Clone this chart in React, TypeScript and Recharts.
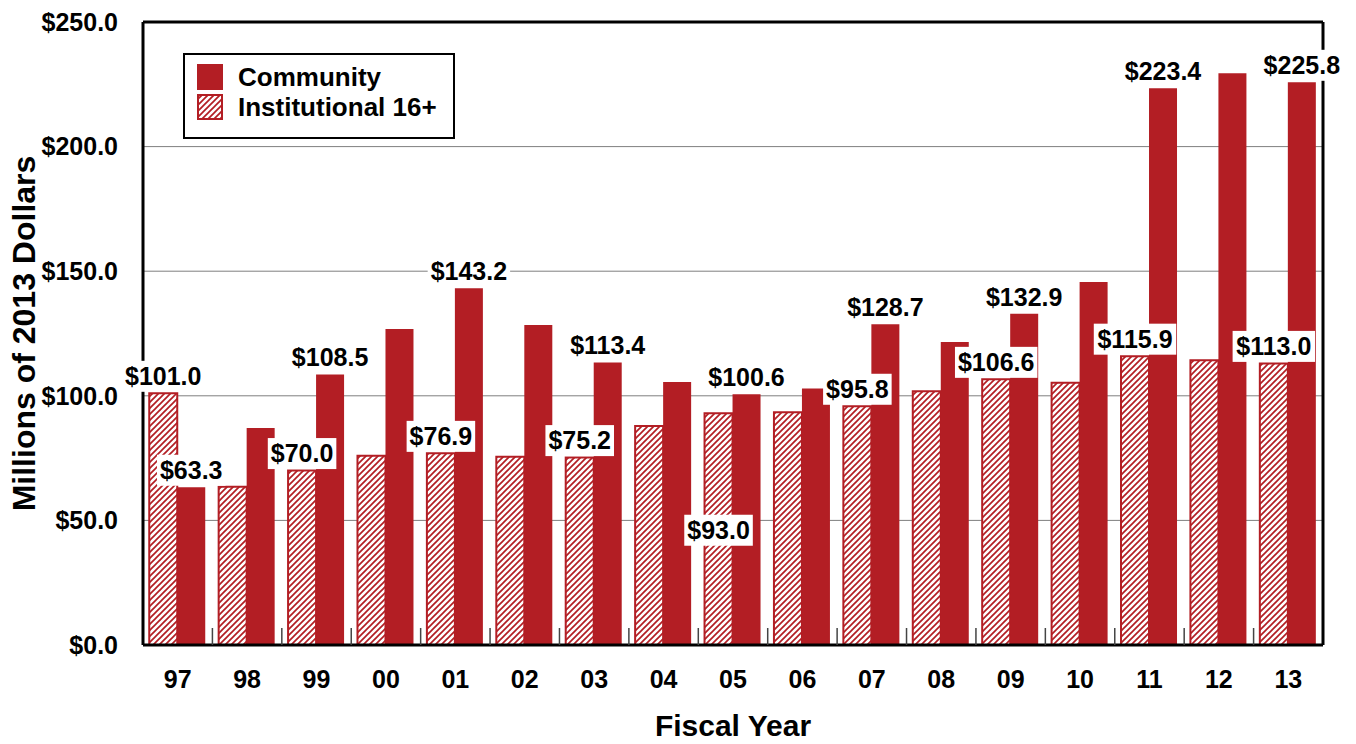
import React from 'react';
import {
  BarChart,
  Bar,
  XAxis,
  YAxis,
  CartesianGrid,
  LabelList,
  Legend,
} from 'recharts';

const years = ['97', '98', '99', '00', '01', '02', '03', '04', '05', '06', '07', '08', '09', '10', '11', '12', '13'];
const community = [63.3, 87.1, 108.5, 126.8, 143.2, 128.4, 113.4, 105.5, 100.6, 102.9, 128.7, 121.6, 132.9, 145.7, 223.4, 229.4, 225.8];
const institutional = [101.0, 63.5, 70.0, 75.9, 76.9, 75.5, 75.2, 87.9, 93.0, 93.4, 95.8, 101.8, 106.6, 105.2, 115.9, 114.3, 113.0];
const yTicks = [0, 50, 100, 150, 200, 250];
const labeledYears = ['97', '99', '01', '03', '05', '07', '09', '11', '13'];

const data = years.map((year, i) => ({
  year,
  community: community[i],
  institutional: institutional[i],
}));

const RED = '#B31E24';
const FONT = '"Liberation Sans", Arial, sans-serif';
const FS = 25;

const W = 1356;
const H = 744;
const PLOT_LEFT = 143;
const PLOT_RIGHT = 1323;
const PLOT_TOP = 22;
const PLOT_BOTTOM = 645;
const CAT_W = (PLOT_RIGHT - PLOT_LEFT) / years.length;

// labels that are not sitting just above their bar
const labelShift: Record<string, number> = { 'institutional-05': 134 };

const textWidth = (s: string) =>
  s.split('').reduce((w, c) => w + (c === '.' ? 0.278 : 0.556), 0) * FS;

const makeLabel = (series: string) => (props: any) => {
  const { x, y, width, value, index } = props;
  const year = years[index];
  if (!labeledYears.includes(year)) return null;
  const text = `$${Number(value).toFixed(1)}`;
  const cx = Number(x) + Number(width) / 2;
  const cy = Number(y) - 17 + (labelShift[`${series}-${year}`] ?? 0);
  const tw = textWidth(text);
  return (
    <g>
      <rect x={cx - tw / 2 - 3} y={cy - 15.5} width={tw + 6} height={31} fill="#fff" />
      <text
        x={cx}
        y={cy}
        dy="0.355em"
        textAnchor="middle"
        fontSize={FS}
        fontWeight="bold"
        fontFamily={FONT}
        fill="#000"
      >
        {text}
      </text>
    </g>
  );
};

const XTick = (props: any) => {
  const { x, payload, index } = props;
  return (
    <g>
      <text
        x={x}
        y={PLOT_BOTTOM + 43}
        textAnchor="middle"
        fontSize={FS}
        fontWeight="bold"
        fontFamily={FONT}
        fill="#000"
      >
        {payload.value}
      </text>
      {index < years.length - 1 && (
        <line
          x1={x + CAT_W / 2}
          x2={x + CAT_W / 2}
          y1={PLOT_BOTTOM}
          y2={PLOT_BOTTOM - 17}
          stroke="#444"
          strokeWidth={1.5}
        />
      )}
    </g>
  );
};

const YTick = (props: any) => {
  const { y, payload } = props;
  return (
    <text
      x={PLOT_LEFT - 25}
      y={y}
      dy="0.355em"
      textAnchor="end"
      fontSize={FS}
      fontWeight="bold"
      fontFamily={FONT}
      fill="#000"
    >
      {`$${Number(payload.value).toFixed(1)}`}
    </text>
  );
};

const YTitle = () => (
  <text
    transform={`translate(24,${(PLOT_TOP + PLOT_BOTTOM) / 2}) rotate(-90)`}
    dy="0.355em"
    textAnchor="middle"
    fontSize={32}
    fontWeight="bold"
    fontFamily={FONT}
    fill="#000"
  >
    Millions of 2013 Dollars
  </text>
);

const XTitle = () => (
  <text
    x={(PLOT_LEFT + PLOT_RIGHT) / 2}
    y={736}
    textAnchor="middle"
    fontSize={30}
    fontWeight="bold"
    fontFamily={FONT}
    fill="#000"
  >
    Fiscal Year
  </text>
);

const HatchSwatch = () => (
  <svg width={26} height={26}>
    <defs>
      <pattern id="hatchLegend" width={6} height={6} patternUnits="userSpaceOnUse">
        <rect width={6} height={6} fill="#fff" />
        <path d="M-1,1 l2,-2 M0,6 l6,-6 M5,7 l2,-2" stroke={RED} strokeWidth={1.7} />
      </pattern>
    </defs>
    <rect x={1} y={1} width={24} height={24} fill="url(#hatchLegend)" stroke={RED} strokeWidth={2} />
  </svg>
);

const LegendBox = () => {
  const row: React.CSSProperties = {
    display: 'flex',
    alignItems: 'center',
    height: 30,
    gap: 15,
  };
  const txt: React.CSSProperties = {
    fontFamily: FONT,
    fontWeight: 'bold',
    fontSize: 26,
    color: '#000',
    lineHeight: '26px',
  };
  return (
    <div
      style={{
        boxSizing: 'border-box',
        width: 272,
        height: 86,
        border: '2px solid #000',
        background: '#fff',
        padding: '7px 0 0 12px',
      }}
    >
      <div style={row}>
        <div style={{ width: 26, height: 26, background: RED }} />
        <span style={txt}>Community</span>
      </div>
      <div style={row}>
        <HatchSwatch />
        <span style={txt}>Institutional 16+</span>
      </div>
    </div>
  );
};

const App: React.FC = () => {
  return (
    <div style={{ position: 'absolute', left: 0, top: 0, width: W, height: H, background: '#fff' }}>
      <BarChart
        width={W}
        height={H}
        data={data}
        margin={{ top: PLOT_TOP - 1, right: W - PLOT_RIGHT - 1, left: 0, bottom: 0 }}
        barCategoryGap="9%"
        barGap={0}
      >
        <defs>
          <pattern id="hatch" width={6} height={6} patternUnits="userSpaceOnUse">
            <rect width={6} height={6} fill="#fff" />
            <path d="M-1,1 l2,-2 M0,6 l6,-6 M5,7 l2,-2" stroke={RED} strokeWidth={1.7} />
          </pattern>
        </defs>
        <CartesianGrid vertical={false} stroke="#7f7f7f" strokeWidth={1} />
        <XAxis
          dataKey="year"
          interval={0}
          height={H - PLOT_BOTTOM}
          axisLine={{ stroke: '#000', strokeWidth: 3 }}
          tickLine={false}
          tick={<XTick />}
          label={<XTitle />}
        />
        <XAxis
          xAxisId="top"
          dataKey="year"
          orientation="top"
          height={1}
          tick={false}
          tickLine={false}
          axisLine={{ stroke: '#000', strokeWidth: 3 }}
        />
        <YAxis
          width={PLOT_LEFT}
          domain={[0, 250]}
          ticks={yTicks}
          interval={0}
          axisLine={{ stroke: '#000', strokeWidth: 3 }}
          tickLine={false}
          tick={<YTick />}
          label={<YTitle />}
        />
        <YAxis
          yAxisId="right"
          orientation="right"
          width={1}
          domain={[0, 250]}
          tick={false}
          tickLine={false}
          axisLine={{ stroke: '#000', strokeWidth: 3 }}
        />
        <Legend
          layout="vertical"
          align="center"
          verticalAlign="middle"
          content={<LegendBox />}
          wrapperStyle={{ left: 183, top: 53, width: 272, height: 86 }}
        />
        <Bar
          dataKey="institutional"
          fill="url(#hatch)"
          stroke={RED}
          strokeWidth={2}
          isAnimationActive={false}
        >
          <LabelList dataKey="institutional" content={makeLabel('institutional')} />
        </Bar>
        <Bar dataKey="community" fill={RED} isAnimationActive={false}>
          <LabelList dataKey="community" content={makeLabel('community')} />
        </Bar>
      </BarChart>
    </div>
  );
};

export default App;
